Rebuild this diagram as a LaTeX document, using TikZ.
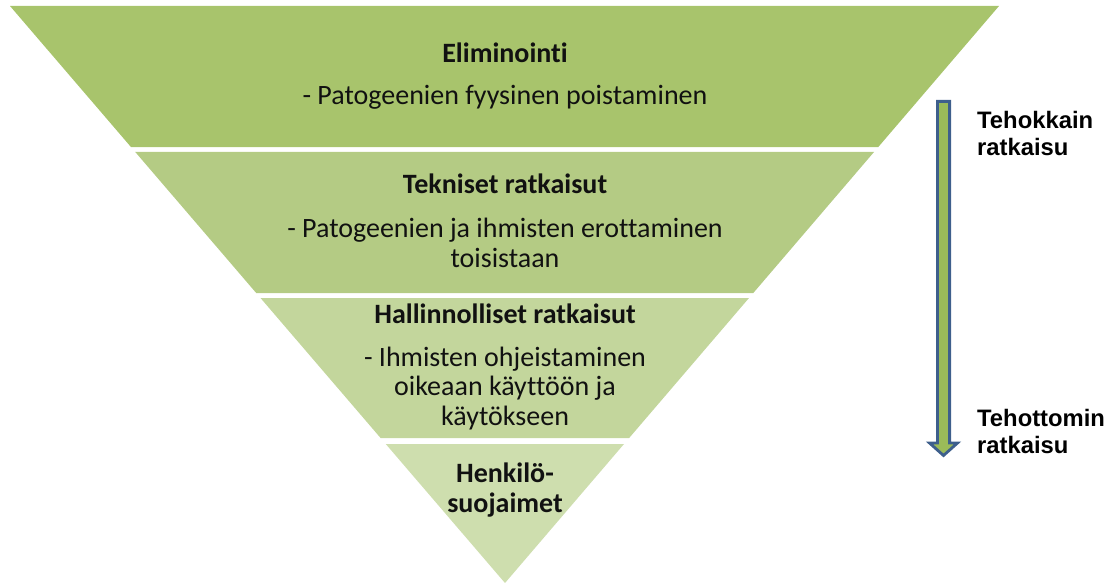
\documentclass[tikz,border=0pt]{standalone}
\usepackage{fontspec}
\setmainfont{Carlito}[Ligatures=NoCommon]
\newfontfamily\arialfont{Liberation Sans}
\usetikzlibrary{calc}
\definecolor{bandA}{HTML}{A8C46C}
\definecolor{bandB}{HTML}{B4CB84}
\definecolor{bandC}{HTML}{C3D69C}
\definecolor{bandD}{HTML}{CEDEAE}
\definecolor{arrowblue}{HTML}{3E5F8C}
\definecolor{arrowgreen}{HTML}{9BBB59}
\definecolor{textdark}{HTML}{111111}
\begin{document}
\begin{tikzpicture}[x=1pt,y=-1pt,
  headtext/.style={inner sep=0pt,anchor=base,text=textdark,font=\fontsize{28}{29.5}\selectfont\bfseries,align=center},
  bodytext/.style={inner sep=0pt,anchor=base,text=textdark,font=\fontsize{28}{29.5}\selectfont,align=center},
  sidetext/.style={inner sep=0pt,anchor=base west,font=\arialfont\fontsize{23.8}{27}\selectfont\bfseries,align=left}]
\useasboundingbox (0,0) rectangle (1113,583);
\coordinate (L) at (10,6);
\coordinate (R) at (999,6);
\coordinate (A) at (505,583);
% bands
\fill[bandA] ($(L)!0!(A)$) -- ($(R)!0!(A)$) -- ($(R)!0.2444!(A)$) -- ($(L)!0.2444!(A)$) -- cycle;
\fill[bandB] ($(L)!0.2530!(A)$) -- ($(R)!0.2530!(A)$) -- ($(R)!0.4974!(A)$) -- ($(L)!0.4974!(A)$) -- cycle;
\fill[bandC] ($(L)!0.5061!(A)$) -- ($(R)!0.5061!(A)$) -- ($(R)!0.7487!(A)$) -- ($(L)!0.7487!(A)$) -- cycle;
\fill[bandD] ($(L)!0.7591!(A)$) -- ($(R)!0.7591!(A)$) -- (A) -- cycle;
% texts (multi-line nodes are placed by the baseline of their last line)
\node[headtext] (h1) at (505,63) {Eliminointi};
\node[bodytext] (b1) at (505,105) {- Patogeenien fyysinen poistaminen};
\node[headtext] (h2) at (505,193) {Tekniset ratkaisut};
\node[bodytext] (b2) at (505,267) {- Patogeenien ja ihmisten erottaminen\\toisistaan};
\node[headtext] (h3) at (505,323) {Hallinnolliset ratkaisut};
\node[bodytext] (b3) at (505,425) {- Ihmisten ohjeistaminen\\oikeaan käyttöön ja\\käytökseen};
\node[headtext] (h4) at (505,512) {Henkilö-\\suojaimet};
% arrow
\draw[arrowblue,fill=arrowgreen,line width=2.8pt,line join=miter]
  (937.4,101.4) -- (949.6,101.4) -- (949.6,443) -- (957.5,443) -- (943.5,455.5)
  -- (929.5,443) -- (937.4,443) -- cycle;
\node[sidetext] (s1) at (977,155) {Tehokkain\\ratkaisu};
\node[sidetext] (s2) at (977,453) {Tehottomin\\ratkaisu};
\end{tikzpicture}
\end{document}
